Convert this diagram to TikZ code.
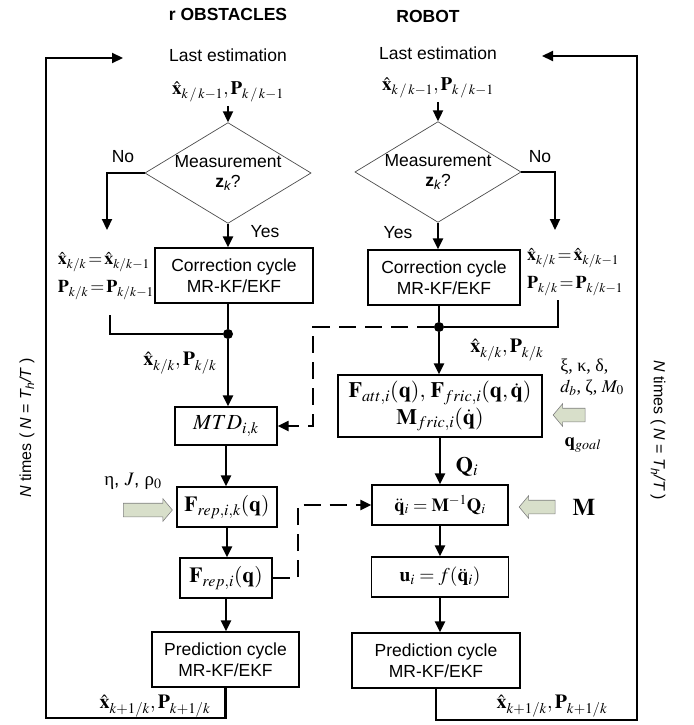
\documentclass[tikz,border=0pt]{standalone}
\usepackage{mathptmx}
\usepackage{fontspec}
\setmainfont{Liberation Sans}
\newfontfamily\tms{Liberation Serif}
\usetikzlibrary{positioning, arrows.meta, shapes.geometric, shapes.arrows}
\definecolor{hollow}{RGB}{216,223,202}

\begin{document}
\begin{tikzpicture}[x=1pt, y=-1pt,
      blk/.style={draw, line width=1.3pt, align=center, inner sep=1pt},
      dec/.style={diamond, draw=black!70, line width=0.7pt, aspect=1.65,
        minimum width=150pt, minimum height=91pt, inner sep=0pt, align=center},
      mfont/.style={font=\fontsize{#1}{#1}\selectfont},
      flow/.style={line width=2.2pt},
      dashflow/.style={flow, dash pattern=on 17pt off 9pt},
      hint/.style={single arrow, draw=black!50, fill=hollow, line width=0.6pt,
        single arrow head extend=4.5pt, single arrow tip angle=100, inner sep=0pt},
      dot/.style={circle, fill, inner sep=0pt, minimum size=10pt},
      >={Triangle[length=11pt,width=10pt]},
      font=\fontsize{17.5}{20.5}\selectfont]
    \useasboundingbox (0,0) rectangle (693,725);
    % titles
    \node[font=\bfseries\fontsize{17.5}{20}\selectfont] (tobs) at (228,14) {r OBSTACLES};
    \node[font=\bfseries\fontsize{17.5}{20}\selectfont] (trob) at (428,16) {ROBOT};
    % obstacles column
    \node (lastL) at (228,55) {Last estimation};
    \node[mfont=19] (estL) at (228,92) {$\hat{\mathbf{x}}_{k\,/\,k-1},\mathbf{P}_{k\,/\,k-1}$};
    \node[dec] (diaL) at (228,173) {Measurement\\{\bfseries z}\textsubscript{\itshape k}?};
    \node[blk, minimum width=158pt, minimum height=55pt] (corrL) at (234,275.5)
      {Correction cycle\\MR-KF/EKF};
    \node[mfont=18, anchor=east, align=left, inner sep=0pt] (eqL) at (154,276)
      {$\hat{\mathbf{x}}_{k/k}\!=\!\hat{\mathbf{x}}_{k/k-1}$\\[8pt]$\mathbf{P}_{k/k}\!=\!\mathbf{P}_{k/k-1}$};
    \node (noL) at (123,157) {No};
    \node (yesL) at (265,232) {Yes};
    \node[dot] (dotL) at (228,334) {};
    \node[mfont=20] (estKL) at (180,363) {$\hat{\mathbf{x}}_{k/k},\mathbf{P}_{k/k}$};
    \node[blk, mfont=21.5, minimum width=102pt, minimum height=38pt] (mtd) at (226,426)
      {$MTD_{i,k}$};
    \node[mfont=19] (eta) at (133,481) {{\tms η}, $J$, {\tms ρ}$_0$};
    \node[hint, minimum height=49pt] (hL) at (145,510) {\rule{0pt}{13pt}};
    \node[blk, mfont=21.5, minimum width=100pt, minimum height=40pt] (frepk) at (227,507)
      {$\mathbf{F}_{rep,i,k}(\mathbf{q})$};
    \node[blk, mfont=21.5, minimum width=92pt, minimum height=40pt] (frep) at (226,578)
      {$\mathbf{F}_{rep,i}(\mathbf{q})$};
    \node[blk, minimum width=147pt, minimum height=55pt] (predL) at (225.5,659.5)
      {Prediction cycle\\MR-KF/EKF};
    \node[mfont=20] (estNL) at (155,706) {$\hat{\mathbf{x}}_{k+1/k},\mathbf{P}_{k+1/k}$};
    % robot column
    \node (lastR) at (438,53) {Last estimation};
    \node[mfont=19] (estR) at (438,88) {$\hat{\mathbf{x}}_{k\,/\,k-1},\mathbf{P}_{k\,/\,k-1}$};
    \node[dec] (diaR) at (438,172) {Measurement\\{\bfseries z}\textsubscript{\itshape k}?};
    \node[blk, minimum width=152pt, minimum height=55pt] (corrR) at (444,277.5)
      {Correction cycle\\MR-KF/EKF};
    \node[mfont=18, anchor=west, align=left, inner sep=0pt] (eqR) at (527,272)
      {$\hat{\mathbf{x}}_{k/k}\!=\!\hat{\mathbf{x}}_{k/k-1}$\\[8pt]$\mathbf{P}_{k/k}\!=\!\mathbf{P}_{k/k-1}$};
    \node (noR) at (540,157) {No};
    \node (yesR) at (398,233) {Yes};
    \node[dot] (dotR) at (439,327) {};
    \node[mfont=20] (estKR) at (507,350) {$\hat{\mathbf{x}}_{k/k},\mathbf{P}_{k/k}$};
    \node[blk, mfont=22, minimum width=204pt, minimum height=62pt] (fatt) at (440,406)
      {$\mathbf{F}_{att,i}(\mathbf{q}),\,\mathbf{F}_{fric,i}(\mathbf{q},\dot{\mathbf{q}})$\\[2pt]
       $\mathbf{M}_{fric,i}(\dot{\mathbf{q}})$};
    \node[align=left, font=\tms\fontsize{18}{21}\selectfont] (par) at (592,377)
      {ξ, κ, δ,\\$d_b$, ζ, $M_0$};
    \node[hint, shape border rotate=180, minimum height=32pt] (hA) at (572,415) {\rule{0pt}{13pt}};
    \node[mfont=19] (qgoal) at (583,445) {$\mathbf{q}_{goal}$};
    \node[mfont=22] (Qi) at (467,467) {$\mathbf{Q}_i$};
    \node[blk, mfont=18.5, minimum width=136pt, minimum height=40pt] (qdd) at (440,505)
      {$\ddot{\mathbf{q}}_i=\mathbf{M}^{-1}\mathbf{Q}_i$};
    \node[hint, shape border rotate=180, minimum height=36pt] (hM) at (540,507) {\rule{0pt}{13pt}};
    \node[mfont=24] (Mlab) at (584,507) {$\mathbf{M}$};
    \node[blk, mfont=19.5, minimum width=137pt, minimum height=40pt] (ui) at (440,577)
      {$\mathbf{u}_i=f(\ddot{\mathbf{q}}_i)$};
    \node[blk, minimum width=168pt, minimum height=55pt] (predR) at (436,660.5)
      {Prediction cycle\\MR-KF/EKF};
    \node[mfont=20] (estNR) at (552,706) {$\hat{\mathbf{x}}_{k+1/k},\mathbf{P}_{k+1/k}$};
    % repeat labels
    \node[rotate=90, font=\fontsize{16}{19}\selectfont] (repL) at (27,428)
      {{\itshape N} times ( {\itshape N} = {\itshape T\textsubscript{h}/T} )};
    \node[rotate=-90, font=\fontsize{16}{19}\selectfont] (repR) at (658,430)
      {{\itshape N} times ( {\itshape N} = {\itshape T\textsubscript{h}/T} )};
    % free ends
    \coordinate (endNoL) at (107,230);
    \coordinate (endNoR) at (555,230);
    \coordinate (mrgL) at (110,315);
    \coordinate (mrgR) at (558,300);
    \coordinate (dashA) at (313,327);
    \coordinate (retL) at (123,58);
    \coordinate (retR) at (542,56);
    % connectors
    \foreach \a/\b in {estL/diaL, estR/diaR, diaL/corrL, diaR/corrR, mtd/frepk,
        frepk/frep, frep/predL, fatt/qdd, qdd/ui, ui/predR} {
      \draw[flow, ->] (\a.south) -- (\a.south |- \b.north);
    }
    \draw[flow, ->] (diaL.west) -| (endNoL);
    \draw[flow, ->] (diaR.east) -| (endNoR);
    \draw[flow] (mrgL) |- (dotL);
    \draw[flow] (mrgR) |- (dotR);
    \draw[flow] (corrL.south -| dotL) -- (dotL);
    \draw[flow] (corrR.south -| dotR) -- (dotR);
    \draw[flow, ->] (dotL) -- (dotL |- mtd.north);
    \draw[flow, ->] (dotR) -- (dotR |- fatt.north);
    \draw[dashflow, ->] (dotR) -- (dashA) |- (mtd.east);
    \draw[dashflow, ->] (frep.east) -- ++(25,0) |- (qdd.west);
    \draw[flow, ->] (predL.south) |- (46,718) |- (retL);
    \draw[flow, ->] (predR.south) |- (637,720) |- (retR);
  \end{tikzpicture}
\end{document}
